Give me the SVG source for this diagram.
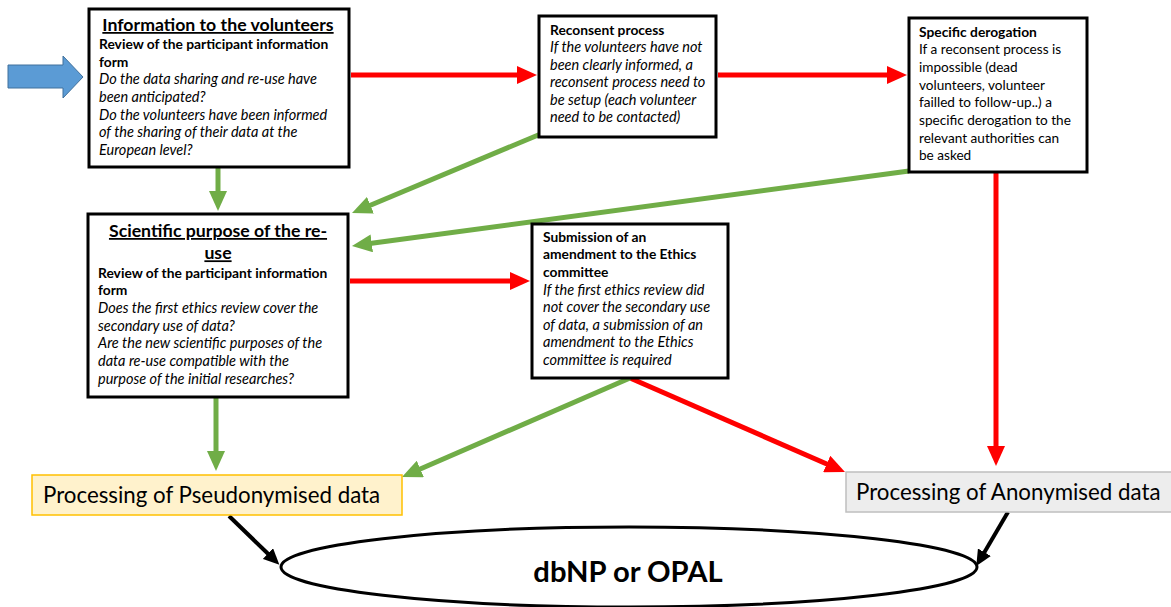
<svg xmlns="http://www.w3.org/2000/svg" width="1171" height="607" viewBox="0 0 1171 607">
<style>
text{font-family:Lato,"Liberation Sans",sans-serif;fill:#000}
.box{fill:#fff;stroke:#000;stroke-width:3}
.t{font-size:17.7px;font-weight:bold;text-decoration:underline;text-anchor:middle}
.b{font-size:13.8px;font-weight:bold}
.i{font-size:14.5px;font-style:italic}
.r{font-size:13.6px}
.big{font-size:22.3px}
.red{stroke:#FF0000;stroke-width:5;fill:none}
.grn{stroke:#70AD47;stroke-width:5;fill:none}
.blk{stroke:#000;stroke-width:4;fill:none}
</style>
<defs>
<marker id="ar" markerUnits="userSpaceOnUse" markerWidth="20" markerHeight="18" viewBox="0 0 20 18" refX="2" refY="9" orient="auto"><path d="M0,0 L20,9 L0,18 z" fill="#FF0000"/></marker>
<marker id="ag" markerUnits="userSpaceOnUse" markerWidth="20" markerHeight="18" viewBox="0 0 20 18" refX="2" refY="9" orient="auto"><path d="M0,0 L20,9 L0,18 z" fill="#70AD47"/></marker>
<marker id="ab" markerUnits="userSpaceOnUse" markerWidth="16" markerHeight="15" viewBox="0 0 16 15" refX="2" refY="7.5" orient="auto"><path d="M0,0 L16,7.5 L0,15 z" fill="#000"/></marker>
</defs>

<g id="connectors">
<line class="red" x1="351" y1="75" x2="519" y2="75" marker-end="url(#ar)"/>
<line class="red" x1="718" y1="75" x2="889" y2="75" marker-end="url(#ar)"/>
<line class="red" x1="350" y1="281" x2="512" y2="281" marker-end="url(#ar)"/>
<line class="red" x1="630" y1="378" x2="828.5" y2="464.8" marker-end="url(#ar)"/>
<line class="red" x1="996" y1="173" x2="996" y2="448" marker-end="url(#ar)"/>
<line class="grn" x1="218" y1="168" x2="218" y2="193" marker-end="url(#ag)"/>
<line class="grn" x1="543" y1="133" x2="368.6" y2="206" marker-end="url(#ag)"/>
<line class="grn" x1="909" y1="171" x2="369.8" y2="243.6" marker-end="url(#ag)"/>
<line class="grn" x1="216" y1="398" x2="216" y2="453" marker-end="url(#ag)"/>
<line class="grn" x1="630" y1="378" x2="418.5" y2="469.8" marker-end="url(#ag)"/>
<line class="blk" x1="229" y1="516" x2="269.3" y2="555" marker-end="url(#ab)"/>
<line class="blk" x1="1008" y1="512" x2="983.4" y2="554" marker-end="url(#ab)"/>
</g>

<g id="input-arrow">
<polygon points="8,65 63,65 63,56 83,77 63,98 63,88 8,88" fill="#5B9BD5" stroke="#41719C" stroke-width="1"/>
</g>

<g id="info-volunteers">
<rect class="box" x="89" y="9" width="260" height="158"/>
<text class="t" x="218" y="31">Information to the volunteers</text>
<text class="b" x="99" y="49">Review of the participant information</text>
<text class="b" x="99" y="66.7">form</text>
<text class="i" x="99" y="84.3">Do the data sharing and re-use have</text>
<text class="i" x="99" y="101.9">been anticipated?</text>
<text class="i" x="99" y="119.5">Do the volunteers have been informed</text>
<text class="i" x="99" y="137.1">of the sharing of their data at the</text>
<text class="i" x="99" y="154.7">European level?</text>
</g>

<g id="reconsent">
<rect class="box" x="539" y="16" width="177" height="121"/>
<text class="b" x="550" y="34.5">Reconsent process</text>
<text class="i" x="550" y="52">If the volunteers have not</text>
<text class="i" x="550" y="69.6">been clearly informed, a</text>
<text class="i" x="550" y="87.2">reconsent process need to</text>
<text class="i" x="550" y="104.8">be setup (each volunteer</text>
<text class="i" x="550" y="122.4">need to be contacted)</text>
</g>

<g id="derogation">
<rect class="box" x="909" y="18" width="178" height="154"/>
<text class="b" x="919" y="36.5">Specific derogation</text>
<text class="r" x="919" y="54.2">If a reconsent process is</text>
<text class="r" x="919" y="71.9">impossible (dead</text>
<text class="r" x="919" y="89.6">volunteers, volunteer</text>
<text class="r" x="919" y="107.3">failled to follow-up..) a</text>
<text class="r" x="919" y="125">specific derogation to the</text>
<text class="r" x="919" y="142.7">relevant authorities can</text>
<text class="r" x="919" y="160.4">be asked</text>
</g>

<g id="scientific-purpose">
<rect class="box" x="88" y="214" width="260" height="183"/>
<text class="t" x="218" y="237">Scientific purpose of the re-</text>
<text class="t" x="218" y="259.3">use</text>
<text class="b" x="98" y="277.8">Review of the participant information</text>
<text class="b" x="98" y="295.4">form</text>
<text class="i" x="98" y="313.2">Does the first ethics review cover the</text>
<text class="i" x="98" y="330.8">secondary use of data?</text>
<text class="i" x="98" y="348.4">Are the new scientific purposes of the</text>
<text class="i" x="98" y="366">data re-use compatible with the</text>
<text class="i" x="98" y="383.6">purpose of the initial researches?</text>
</g>

<g id="amendment">
<rect class="box" x="532" y="224" width="196" height="154"/>
<text class="b" x="543" y="241.8">Submission of an</text>
<text class="b" x="543" y="259.4">amendment to the Ethics</text>
<text class="b" x="543" y="277">committee</text>
<text class="i" x="543" y="294.6">If the first ethics review did</text>
<text class="i" x="543" y="312.2">not cover the secondary use</text>
<text class="i" x="543" y="329.8">of data, a submission of an</text>
<text class="i" x="543" y="347.4">amendment to the Ethics</text>
<text class="i" x="543" y="365">committee is required</text>
</g>

<g id="pseudonymised">
<rect x="32" y="475" width="370" height="40" fill="#FFF2CC" stroke="#FFC000" stroke-width="1.5"/>
<text class="big" x="43" y="503">Processing of Pseudonymised data</text>
</g>

<g id="anonymised">
<rect x="846" y="472" width="330" height="40" fill="#EDEDED" stroke="#BFBFBF" stroke-width="1.5"/>
<text class="big" x="856" y="500">Processing of Anonymised data</text>
</g>

<g id="database">
<ellipse cx="629" cy="567" rx="348" ry="40" fill="#fff" stroke="#000" stroke-width="3"/>
<text x="628" y="582" font-size="29.2" font-weight="bold" text-anchor="middle">dbNP or OPAL</text>
</g>
</svg>
